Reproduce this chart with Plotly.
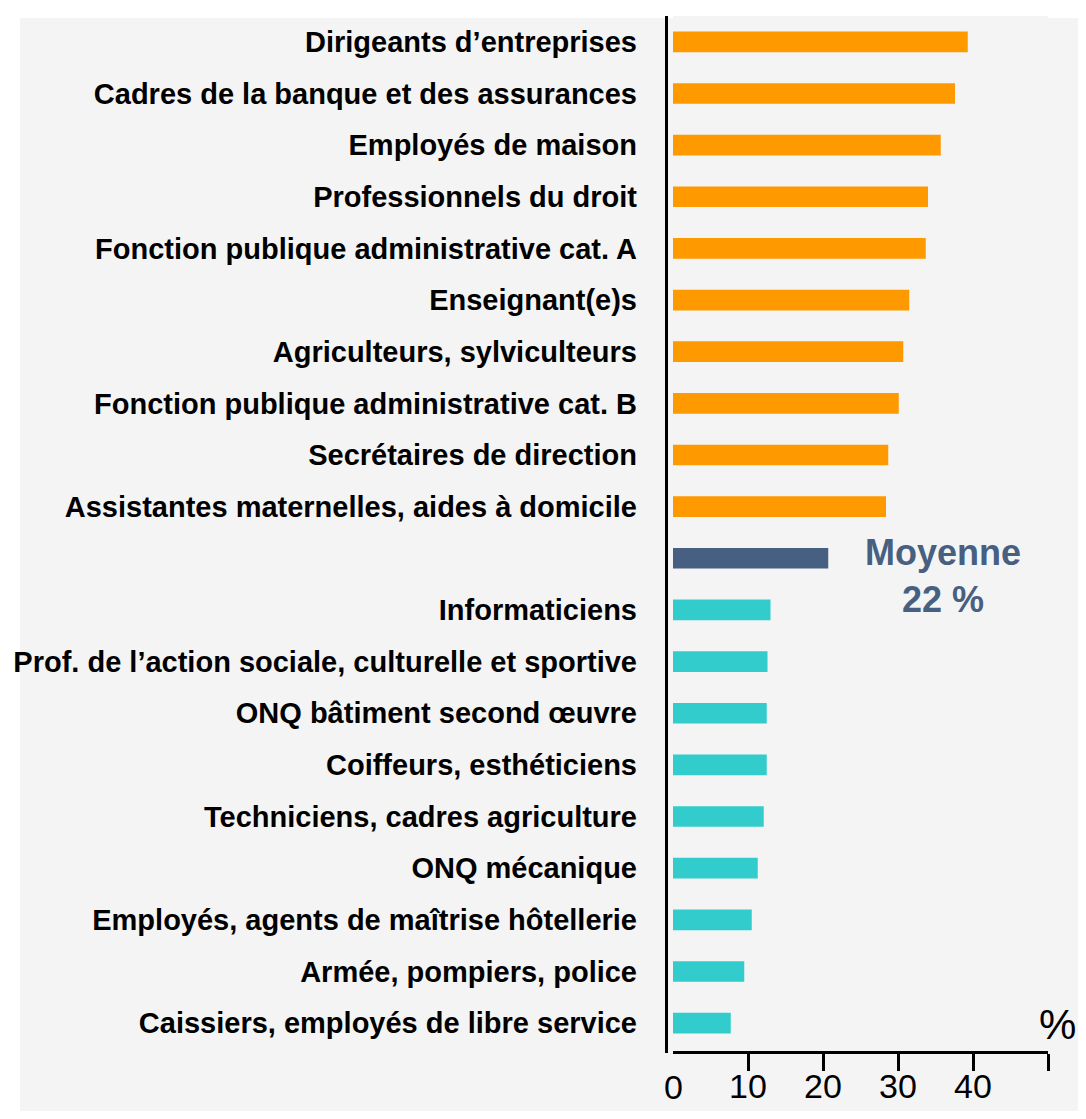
import plotly.graph_objects as go

# === Données (de haut en bas) ===
metiers_haut = [
    "Dirigeants d’entreprises",
    "Cadres de la banque et des assurances",
    "Employés de maison",
    "Professionnels du droit",
    "Fonction publique administrative cat. A",
    "Enseignant(e)s",
    "Agriculteurs, sylviculteurs",
    "Fonction publique administrative cat. B",
    "Secrétaires de direction",
    "Assistantes maternelles, aides à domicile",
]
valeurs_haut = [39.3, 37.6, 35.7, 34.0, 33.7, 31.5, 30.7, 30.1, 28.7, 28.4]

moyenne_valeur = 20.7
moyenne_texte = "Moyenne<br>22 %"

metiers_bas = [
    "Informaticiens",
    "Prof. de l’action sociale, culturelle et sportive",
    "ONQ bâtiment second œuvre",
    "Coiffeurs, esthéticiens",
    "Techniciens, cadres agriculture",
    "ONQ mécanique",
    "Employés, agents de maîtrise hôtellerie",
    "Armée, pompiers, police",
    "Caissiers, employés de libre service",
]
valeurs_bas = [13.0, 12.6, 12.5, 12.5, 12.1, 11.3, 10.5, 9.5, 7.7]

ticks_x = [10, 20, 30, 40, 50]
ticks_x_texte = ["10", "20", "30", "40", ""]

ORANGE = "#FF9900"
CYAN = "#33CCCC"
BLEU = "#475F80"
FOND = "#F4F4F4"
POLICE = "Liberation Sans, Arial, sans-serif"

labels = metiers_haut + [""] + metiers_bas
valeurs = valeurs_haut + [moyenne_valeur] + valeurs_bas
couleurs = [ORANGE] * len(metiers_haut) + [BLEU] + [CYAN] * len(metiers_bas)
pos_y = list(range(len(labels)))
i_moy = len(metiers_haut)

fig = go.Figure(go.Bar(
    x=valeurs,
    y=pos_y,
    orientation="h",
    marker=dict(color=couleurs, line=dict(width=0)),
    width=0.4,
    hoverinfo="skip",
))

# la page a une marge de 8 px : la figure fait 1070 x 1103
W, H = 1070, 1103
L, R, T, B = 665, 30, 8, 60
pw, ph = W - L - R, H - T - B

fig.update_layout(
    width=W, height=H,
    margin=dict(l=L, r=R, t=T, b=B, pad=0, autoexpand=False),
    paper_bgcolor="white",
    plot_bgcolor=FOND,
    showlegend=False,
    font=dict(family=POLICE, color="black"),
)

fig.update_xaxes(
    range=[0, 50],
    automargin=False,
    tickvals=ticks_x,
    ticktext=ticks_x_texte,
    ticks="outside",
    ticklen=17,
    tickwidth=3,
    tickcolor="black",
    showline=True,
    linewidth=3,
    linecolor="black",
    showgrid=False,
    zeroline=False,
    ticklabelstandoff=-14,
    tickfont=dict(size=34, family=POLICE, color="black"),
)

fig.update_yaxes(
    range=[19.54, -0.5],
    automargin=False,
    tickvals=pos_y,
    ticktext=["<b>%s</b>" % t if t else "" for t in labels],
    ticks="",
    showline=False,
    showgrid=False,
    zeroline=False,
    ticklabelstandoff=35,
    tickfont=dict(size=29, family=POLICE, color="black"),
)

# fond gris (marge blanche en haut et à gauche)
fig.add_shape(
    type="rect", xref="paper", yref="paper", layer="below",
    x0=(12 - L) / pw, x1=(W - L) / pw,
    y0=-B / ph, y1=(H - B - 10) / ph,
    fillcolor=FOND, line=dict(width=0),
)

# axe vertical
fig.add_shape(
    type="line", xref="paper", yref="paper", layer="below",
    x0=-6.5 / pw, x1=-6.5 / pw,
    y0=-2 / ph, y1=1.0,
    line=dict(color="black", width=3),
)

# 0 de l'axe x
fig.add_annotation(
    x=0, y=0, xref="x", yref="paper", yshift=-15,
    text="0", showarrow=False, yanchor="top",
    font=dict(size=34, family=POLICE, color="black"),
)

# symbole %
fig.add_annotation(
    x=1.0, y=0.0, xref="paper", yref="paper", xshift=9, yshift=27,
    text="%", showarrow=False, xanchor="center", yanchor="middle",
    font=dict(size=42, family=POLICE, color="black"),
)

# moyenne
fig.add_annotation(
    x=36, y=i_moy + 0.34, xref="x", yref="y",
    text="<b>%s</b>" % moyenne_texte, showarrow=False,
    align="center",
    font=dict(size=36, family=POLICE, color=BLEU),
)

fig.write_html("out.html")
